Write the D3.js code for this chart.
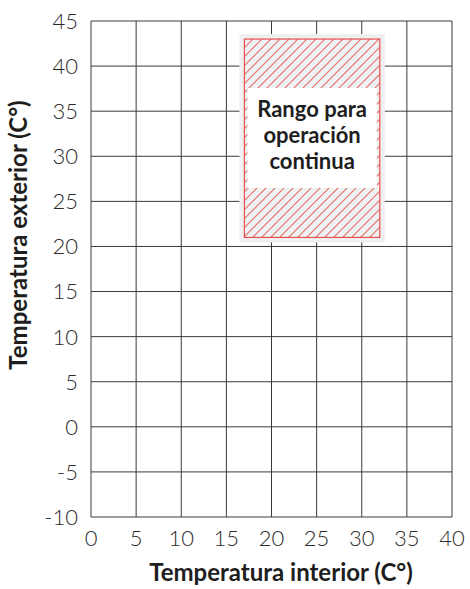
<!DOCTYPE html>
<html>
<head>
<meta charset="utf-8">
<script src="https://cdn.jsdelivr.net/npm/d3@7"></script>
<style>
  body { margin: 0; background: #fff; }
  text { font-family: Lato, "Open Sans", sans-serif; }
</style>
</head>
<body>
<div id="chart"></div>
<script>
// axis ranges and ticks
const xTicks = [0, 5, 10, 15, 20, 25, 30, 35, 40];
const yTicks = [-10, -5, 0, 5, 10, 15, 20, 25, 30, 35, 40, 45];
// continuous operation range: [indoor min, indoor max], [outdoor min, outdoor max]
const rangeIndoor = [17, 32];
const rangeOutdoor = [21, 43];
const rangeLabel = ["Rango para", "operación", "continua"];
const xTitle = "Temperatura interior (C°)";
const yTitle = "Temperatura exterior (C°)";

const W = 470, H = 589;
const margin = {top: 21, right: 18, bottom: 72, left: 91};
const width = W - margin.left - margin.right;
const height = H - margin.top - margin.bottom;

const svg = d3.select("#chart").append("svg")
    .attr("width", W).attr("height", H);

const defs = svg.append("defs");
const pat = defs.append("pattern")
    .attr("id", "hatch")
    .attr("patternUnits", "userSpaceOnUse")
    .attr("width", 9).attr("height", 9);
pat.append("rect").attr("width", 9).attr("height", 9).attr("fill", "#eef2f3");
pat.append("path")
    .attr("d", "M-1,1 l2,-2 M0,9 l9,-9 M8,10 l2,-2")
    .attr("stroke", "#e8706c")
    .attr("stroke-width", 1.2);

const g = svg.append("g")
    .attr("transform", `translate(${margin.left},${margin.top})`);

const x = d3.scaleLinear().domain([0, 40]).range([0, width]);
const y = d3.scaleLinear().domain([-10, 45]).range([height, 0]);

// grid
g.append("g").selectAll("line").data(xTicks).enter().append("line")
    .attr("x1", d => x(d)).attr("x2", d => x(d))
    .attr("y1", 0).attr("y2", height)
    .attr("stroke", "#3a3a3a").attr("stroke-width", 1);
g.append("g").selectAll("line").data(yTicks).enter().append("line")
    .attr("x1", 0).attr("x2", width)
    .attr("y1", d => y(d)).attr("y2", d => y(d))
    .attr("stroke", "#3a3a3a").attr("stroke-width", 1);

// tick labels
g.append("g").selectAll("text").data(yTicks).enter().append("text")
    .attr("x", -13).attr("y", d => y(d))
    .attr("dy", "0.36em")
    .attr("text-anchor", "end")
    .style("font-size", "22px")
    .style("font-weight", 300)
    .attr("fill", "#2a2a2a")
    .text(d => d);
g.append("g").selectAll("text").data(xTicks).enter().append("text")
    .attr("x", d => x(d)).attr("y", height + 29)
    .attr("text-anchor", "middle")
    .style("font-size", "22px")
    .style("font-weight", 300)
    .attr("fill", "#2a2a2a")
    .text(d => d);

// range box
const rx0 = x(rangeIndoor[0]), rx1 = x(rangeIndoor[1]);
const ry0 = y(rangeOutdoor[1]), ry1 = y(rangeOutdoor[0]);
g.append("rect")
    .attr("x", rx0 - 5).attr("y", ry0 - 5)
    .attr("width", rx1 - rx0 + 10).attr("height", ry1 - ry0 + 10)
    .attr("fill", "#f0f0f2");
g.append("rect")
    .attr("x", rx0).attr("y", ry0)
    .attr("width", rx1 - rx0).attr("height", ry1 - ry0)
    .attr("fill", "url(#hatch)")
    .attr("stroke", "#e8504e").attr("stroke-width", 1.2);
g.append("rect")
    .attr("x", rx0 + 3).attr("y", ry0 + 49)
    .attr("width", rx1 - rx0 - 6).attr("height", 100)
    .attr("fill", "#fff");
g.append("g").selectAll("text").data(rangeLabel).enter().append("text")
    .attr("x", (rx0 + rx1) / 2)
    .attr("y", (d, i) => ry0 + 78 + i * 26)
    .attr("text-anchor", "middle")
    .style("font-size", "22px")
    .style("font-weight", 700)
    .attr("fill", "#1e1e1e")
    .text(d => d);

// axis titles
svg.append("text")
    .attr("x", 281).attr("y", 581)
    .attr("text-anchor", "middle")
    .style("font-size", "24px").style("font-weight", 700)
    .attr("fill", "#1e1e1e")
    .text(xTitle);
svg.append("text")
    .attr("transform", "translate(27,235) rotate(-90)")
    .attr("text-anchor", "middle")
    .style("font-size", "24px").style("font-weight", 700)
    .attr("fill", "#1e1e1e")
    .text(yTitle);
</script>
</body>
</html>
